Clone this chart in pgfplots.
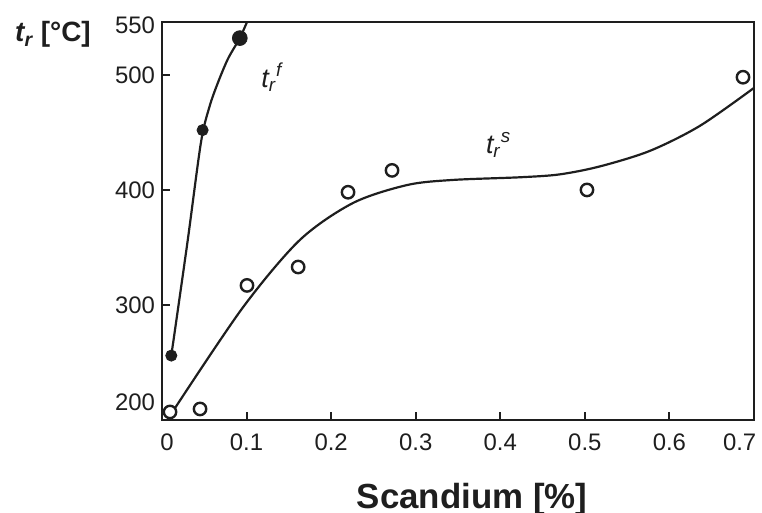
\documentclass[border=0pt]{standalone}
\usepackage{fontspec}
\setmainfont{Liberation Sans}
\usepackage{pgfplots}
\pgfplotsset{compat=1.18}
\definecolor{ink}{HTML}{1E1E1E}
\begin{document}
\begin{tikzpicture}
\useasboundingbox (-81bp,-46.5bp) rectangle (300bp,210bp);
\begin{axis}[
  scale only axis, width=296bp, height=199bp,
  at={(0,0)}, anchor=south west,
  xmin=0, xmax=0.7, ymin=200, ymax=546,
  axis line style={line width=1.1pt, ink},
  tick style={line width=1pt, ink},
  tick align=inside, major tick length=4bp,
  xtick pos=bottom, ytick pos=left,
  xtick={0.1,0.2,0.3,0.4,0.5,0.6},
  xticklabels={0.1,0.2,0.3,0.4,0.5,0.6},
  extra x ticks={0.006,0.683},
  extra x tick labels={0,0.7},
  extra x tick style={major tick length=0pt},
  ytick={300,400,500},
  yticklabels={300,400,500},
  extra y ticks={215.7,543.5},
  extra y tick labels={200,550},
  extra y tick style={major tick length=0pt},
  tick label style={font=\fontsize{12}{14}\selectfont, text=ink},
  xticklabel style={yshift=-3.5bp},
  /pgf/number format/assume math mode=true,
  clip=false,
]
% t_r^f : filled points and curve
\addplot[smooth, line width=1.1pt, ink] coordinates {
  (0.011,256) (0.030,354) (0.046,441) (0.056,472) (0.066,493) (0.078,514) (0.092,532) (0.1005,546)};
\addplot[only marks, mark=*, mark size=2.8bp, ink] coordinates {(0.011,256) (0.048,452)};
\addplot[only marks, mark=*, mark size=3.7bp, ink] coordinates {(0.092,532)};
% t_r^s : open points and curve
\addplot[smooth, line width=1.1pt, ink] coordinates {
  (0.0154,210.4) (0.0958,298) (0.163,356.5) (0.226,388.7) (0.29,404.3) (0.344,408.7)
  (0.423,411) (0.47,413.5) (0.518,420.5) (0.577,434) (0.636,455.7) (0.7,488.7)};
\addplot[only marks, mark=o, mark size=3.1bp, mark options={line width=1.2pt, fill=white}, ink] coordinates {
  (0.0095,207) (0.045,209.6) (0.1005,317) (0.161,333) (0.22,398) (0.272,417) (0.5025,400) (0.687,498)};
\node[font=\fontsize{13.5}{15}\selectfont\itshape, text=ink] at (axis cs:0.130,498)
  {t\textsubscript{r}\textsuperscript{f}};
\node[font=\fontsize{13.5}{15}\selectfont\itshape, text=ink] at (axis cs:0.398,439)
  {t\textsubscript{r}\textsuperscript{s}};
\node[anchor=base, font=\fontsize{17.5}{20}\selectfont\bfseries, text=ink]
  at ([yshift=-44bp]rel axis cs:0.524,0) {Scandium [\%]};
\node[anchor=base, font=\fontsize{14}{16}\selectfont\bfseries, text=ink]
  at ([xshift=-54.5bp]rel axis cs:0,0.95) {{\itshape t\textsubscript{r}} [°C]};
\end{axis}
\end{tikzpicture}
\end{document}
